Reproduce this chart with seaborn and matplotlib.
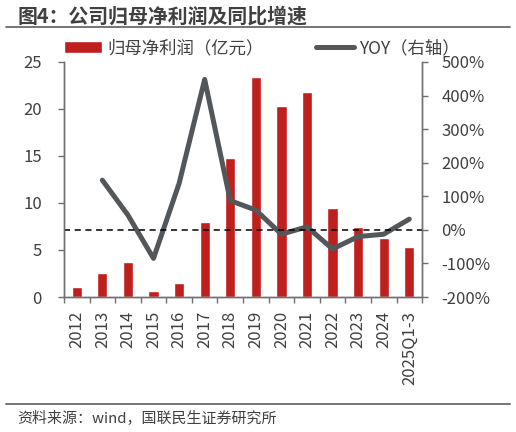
import numpy as np
import pandas as pd
import matplotlib
matplotlib.use("Agg")
import matplotlib.pyplot as plt
import seaborn as sns

# dati
years = ["2012", "2013", "2014", "2015", "2016", "2017", "2018", "2019",
         "2020", "2021", "2022", "2023", "2024", "2025Q1-3"]
profit = [1.03, 2.6, 3.72, 0.64, 1.45, 7.94, 14.75, 23.37, 20.3, 21.8, 9.5, 7.45, 6.28, 5.28]
yoy = [148, 44, -85, 138, 448, 87, 59, -13, 9, -57, -20, -13, 32]  # dal 2013, in %
left_ticks = [0, 5, 10, 15, 20, 25]
right_ticks = [-200, -100, 0, 100, 200, 300, 400, 500]

sns.set_theme(style="white")
plt.rcParams['font.family'] = ['Noto Sans CJK SC', 'DejaVu Sans']

red = "#C0201D"
gray_line = "#54575A"
spine_c = "#707070"
text_c = "#404040"
fs = 12

fig = plt.figure(figsize=(5.16, 4.32), dpi=100)
ax = fig.add_axes([0.124, 0.3125, 0.694, 0.544])

df = pd.DataFrame({"year": years, "profit": profit})
sns.barplot(data=df, x="year", y="profit", color=red, width=0.4, saturation=1,
            ax=ax, label="归母净利润（亿元）")
ax.set_xlim(-0.5, len(years) - 0.5)
ax.set_ylim(0, 25)
ax.set_yticks(left_ticks)
ax.set_xlabel("")
ax.set_ylabel("")

ax2 = ax.twinx()
pos = np.arange(1, len(years))
sns.lineplot(x=pos, y=yoy, color=gray_line, linewidth=3.6, ax=ax2, label="YOY（右轴）")
ax2.axhline(0, ls="--", color="black", lw=1.1, dashes=(4, 3))
ax2.set_ylim(-200, 500)
ax2.set_yticks(right_ticks)
ax2.set_yticklabels([f"{t}%" for t in right_ticks])
ax2.set_xlim(-0.5, len(years) - 0.5)

for a in (ax, ax2):
    a.spines["top"].set_visible(False)
    for s in ["left", "right", "bottom"]:
        a.spines[s].set_color(spine_c)
        a.spines[s].set_linewidth(1.0)
    a.tick_params(colors=text_c, labelsize=fs)
    a.grid(False)

ax.tick_params(axis="y", left=True, length=4, color=spine_c, width=1, pad=12)
ax2.tick_params(axis="y", right=True, length=4, color=spine_c, width=1, pad=10)
ax.set_xticks(np.arange(len(years)))
ax.set_xticklabels(years, rotation=90)
ax.set_xticks(np.arange(-0.5, len(years)), minor=True)
ax.tick_params(axis="x", which="major", length=0, pad=10)
ax.tick_params(axis="x", which="minor", bottom=True, length=4, color=spine_c, width=1)

# legenda in alto
h1, l1 = ax.get_legend_handles_labels()
h2, l2 = ax2.get_legend_handles_labels()
for a in (ax, ax2):
    if a.get_legend():
        a.get_legend().remove()
fig.legend(h1 + h2, l1 + l2, loc="center left", bbox_to_anchor=(0.124, 0.889), ncol=2,
           frameon=False, fontsize=12.5, handlelength=2.2, handleheight=0.72,
           handletextpad=0.3, columnspacing=3.0, labelcolor=text_c,
           borderpad=0, borderaxespad=0)

# titolo e fonte
fig.text(0.034, 0.963, "图4：公司归母净利润及同比增速", fontsize=14.3, fontweight="bold",
         color=text_c, va="center")
fig.add_artist(plt.Line2D([0.012, 0.988], [0.937, 0.937], color="#6a6a6a", lw=1.3))
fig.add_artist(plt.Line2D([0.012, 0.988], [0.065, 0.065], color="#6a6a6a", lw=1.3))
fig.text(0.034, 0.032, "资料来源：wind，国联民生证券研究所", fontsize=10.8, color=text_c, va="center")

fig.savefig("out.png", dpi=100)
